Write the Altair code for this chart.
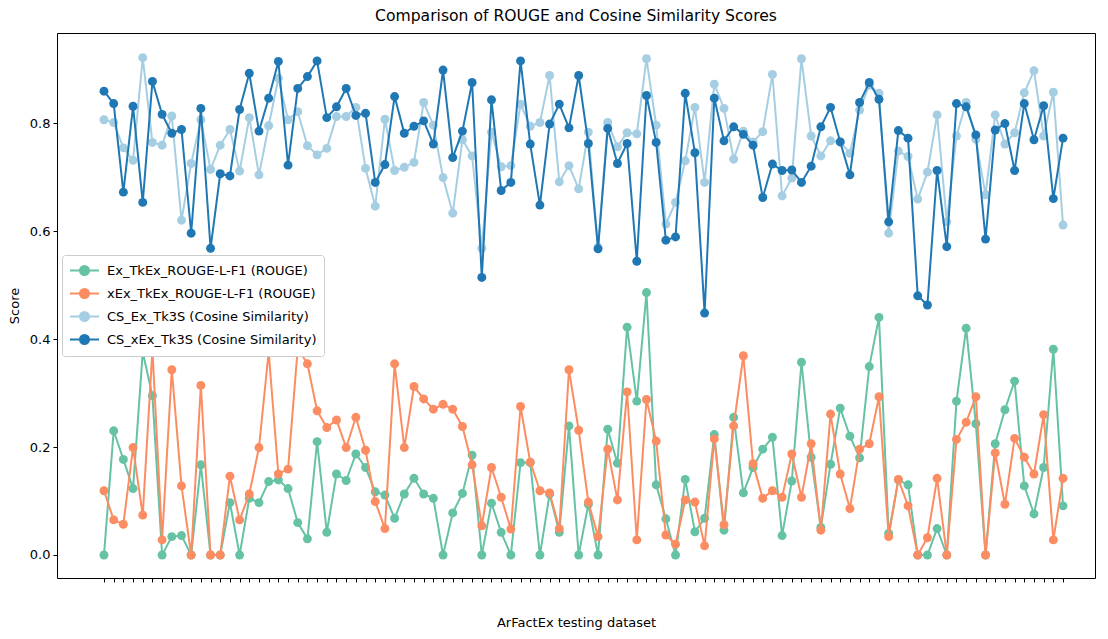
import altair as alt
import pandas as pd

series_names = [
    "Ex_TkEx_ROUGE-L-F1 (ROUGE)",
    "xEx_TkEx_ROUGE-L-F1 (ROUGE)",
    "CS_Ex_Tk3S (Cosine Similarity)",
    "CS_xEx_Tk3S (Cosine Similarity)",
]
series_colors = ["#66c2a5", "#fc8d62", "#a6cee3", "#1f78b4"]

ex_rouge = [
    0.0, 0.230, 0.177, 0.123, 0.376, 0.295, 0.0, 0.034, 0.036, 0.0,
    0.167, 0.0, 0.0, 0.097, 0.0, 0.105, 0.097, 0.136, 0.139, 0.123,
    0.060, 0.030, 0.210, 0.042, 0.150, 0.138, 0.187, 0.162, 0.117, 0.111,
    0.068, 0.113, 0.142, 0.113, 0.105, 0.0, 0.078, 0.114, 0.185, 0.0,
    0.096, 0.042, 0.0, 0.171, 0.171, 0.0, 0.113, 0.042, 0.239, 0.0,
    0.094, 0.0, 0.233, 0.170, 0.422, 0.285, 0.486, 0.130, 0.067, 0.0,
    0.140, 0.043, 0.068, 0.223, 0.046, 0.255, 0.115, 0.162, 0.196, 0.218,
    0.036, 0.137, 0.357, 0.181, 0.051, 0.168, 0.272, 0.220, 0.180, 0.349,
    0.440, 0.040, 0.139, 0.130, 0.0, 0.0, 0.049, 0.0, 0.285, 0.420,
    0.243, 0.0, 0.206, 0.269, 0.322, 0.128, 0.076, 0.162, 0.381, 0.091,
]

xex_rouge = [
    0.119, 0.065, 0.057, 0.199, 0.074, 0.380, 0.028, 0.343, 0.128, 0.0,
    0.314, 0.0, 0.0, 0.146, 0.065, 0.113, 0.199, 0.376, 0.150, 0.159,
    0.383, 0.354, 0.267, 0.236, 0.250, 0.199, 0.255, 0.194, 0.099, 0.049,
    0.354, 0.199, 0.312, 0.289, 0.270, 0.279, 0.270, 0.238, 0.167, 0.054,
    0.162, 0.107, 0.048, 0.275, 0.172, 0.119, 0.115, 0.049, 0.343, 0.231,
    0.098, 0.034, 0.196, 0.102, 0.302, 0.028, 0.288, 0.211, 0.037, 0.020,
    0.102, 0.098, 0.017, 0.215, 0.056, 0.239, 0.369, 0.169, 0.105, 0.119,
    0.107, 0.187, 0.107, 0.206, 0.046, 0.261, 0.150, 0.086, 0.196, 0.206,
    0.293, 0.034, 0.140, 0.091, 0.0, 0.032, 0.142, 0.0, 0.214, 0.246,
    0.293, 0.0, 0.189, 0.094, 0.216, 0.181, 0.150, 0.260, 0.028, 0.142,
]

cs_ex = [
    0.806, 0.801, 0.754, 0.731, 0.921, 0.764, 0.759, 0.813, 0.620, 0.725,
    0.806, 0.714, 0.759, 0.788, 0.711, 0.810, 0.704, 0.795, 0.883, 0.806,
    0.821, 0.758, 0.741, 0.753, 0.812, 0.812, 0.829, 0.716, 0.646, 0.807,
    0.712, 0.718, 0.727, 0.838, 0.796, 0.699, 0.633, 0.769, 0.739, 0.568,
    0.783, 0.719, 0.721, 0.835, 0.794, 0.801, 0.888, 0.691, 0.721, 0.678,
    0.783, 0.570, 0.801, 0.756, 0.782, 0.780, 0.919, 0.796, 0.613, 0.653,
    0.730, 0.829, 0.690, 0.872, 0.827, 0.733, 0.785, 0.765, 0.784, 0.890,
    0.665, 0.698, 0.919, 0.776, 0.739, 0.767, 0.765, 0.744, 0.824, 0.870,
    0.855, 0.596, 0.748, 0.738, 0.659, 0.709, 0.815, 0.617, 0.776, 0.838,
    0.770, 0.667, 0.815, 0.761, 0.782, 0.856, 0.897, 0.776, 0.857, 0.611,
]

cs_xex = [
    0.859, 0.836, 0.672, 0.831, 0.653, 0.877, 0.816, 0.781, 0.788, 0.596,
    0.827, 0.568, 0.706, 0.702, 0.825, 0.892, 0.785, 0.846, 0.914, 0.722,
    0.864, 0.886, 0.915, 0.810, 0.830, 0.864, 0.814, 0.818, 0.690, 0.723,
    0.849, 0.781, 0.794, 0.804, 0.761, 0.898, 0.736, 0.785, 0.875, 0.514,
    0.843, 0.675, 0.690, 0.915, 0.761, 0.648, 0.798, 0.835, 0.791, 0.888,
    0.762, 0.567, 0.790, 0.725, 0.762, 0.544, 0.851, 0.764, 0.583, 0.589,
    0.855, 0.745, 0.448, 0.846, 0.767, 0.793, 0.779, 0.759, 0.662, 0.724,
    0.712, 0.713, 0.690, 0.720, 0.793, 0.829, 0.765, 0.704, 0.838, 0.875,
    0.844, 0.617, 0.786, 0.772, 0.480, 0.463, 0.712, 0.571, 0.836, 0.830,
    0.778, 0.585, 0.787, 0.799, 0.712, 0.836, 0.769, 0.832, 0.660, 0.772,
]

y_ticks = [0.0, 0.2, 0.4, 0.6, 0.8]

all_series = [ex_rouge, xex_rouge, cs_ex, cs_xex]
rows = []
for name, vals in zip(series_names, all_series):
    for i, v in enumerate(vals):
        rows.append({"idx": i, "score": v, "series": name})
df = pd.DataFrame(rows)
n = len(ex_rouge)

FONT = "DejaVu Sans"
# line with a filled circle in the middle (like a matplotlib legend handle)
legend_symbol = "M-1,0L2.867,0M1.533,0A0.6,0.6,0,1,1,0.333,0A0.6,0.6,0,1,1,1.533,0Z"

x_enc = alt.X(
    "idx:Q",
    scale=alt.Scale(domain=[-4.85, 102.3], nice=False, zero=False),
    axis=alt.Axis(
        values=list(range(n)),
        labels=False,
        grid=False,
        ticks=True,
        tickSize=4,
        tickColor="#000",
        domain=False,
        title="ArFactEx testing dataset",
        titlePadding=34,
        titleFont=FONT,
        titleFontSize=13,
        titleFontWeight="normal",
        titleColor="#000",
    ),
)
y_enc = alt.Y(
    "score:Q",
    scale=alt.Scale(domain=[-0.0426, 0.9667], nice=False, zero=False),
    axis=alt.Axis(
        values=y_ticks,
        format=".1f",
        grid=False,
        tickSize=4,
        tickColor="#000",
        domain=False,
        labelFont=FONT,
        labelFontSize=13,
        labelColor="#000",
        labelPadding=3,
        title="Score",
        titlePadding=8,
        titleFont=FONT,
        titleFontSize=13,
        titleFontWeight="normal",
        titleColor="#000",
    ),
)
color_enc = alt.Color(
    "series:N",
    scale=alt.Scale(domain=series_names, range=series_colors),
    legend=alt.Legend(
        title=None,
        orient="none",
        legendX=5,
        legendY=222,
        symbolType=legend_symbol,
        symbolSize=225,
        symbolStrokeWidth=2,
        labelFont=FONT,
        labelFontSize=13,
        labelColor="#000",
        labelOffset=21,
        labelLimit=400,
        padding=7,
        rowPadding=4,
        strokeColor="#cccccc",
        fillColor="#ffffff",
        cornerRadius=3,
    ),
)

layers = []
for name in series_names:
    base = alt.Chart(df).transform_filter(alt.datum.series == name)
    layers.append(base.mark_line(strokeWidth=2).encode(x=x_enc, y=y_enc, color=color_enc))
    layers.append(
        base.mark_point(filled=True, size=80, opacity=1).encode(x=x_enc, y=y_enc, color=color_enc)
    )

chart = (
    alt.layer(*layers)
    .properties(
        width=1038,
        height=545,
        title=alt.TitleParams(
            "Comparison of ROUGE and Cosine Similarity Scores",
            font=FONT,
            fontSize=15.6,
            fontWeight="normal",
            color="#000",
            offset=8,
        ),
        padding={"left": 49, "top": 25, "right": 5, "bottom": 52},
        autosize=alt.AutoSizeParams(type="none"),
    )
    .configure_view(stroke="#000", strokeWidth=1)
)

chart.save("out.html", embed_options={"renderer": "svg", "actions": False})
